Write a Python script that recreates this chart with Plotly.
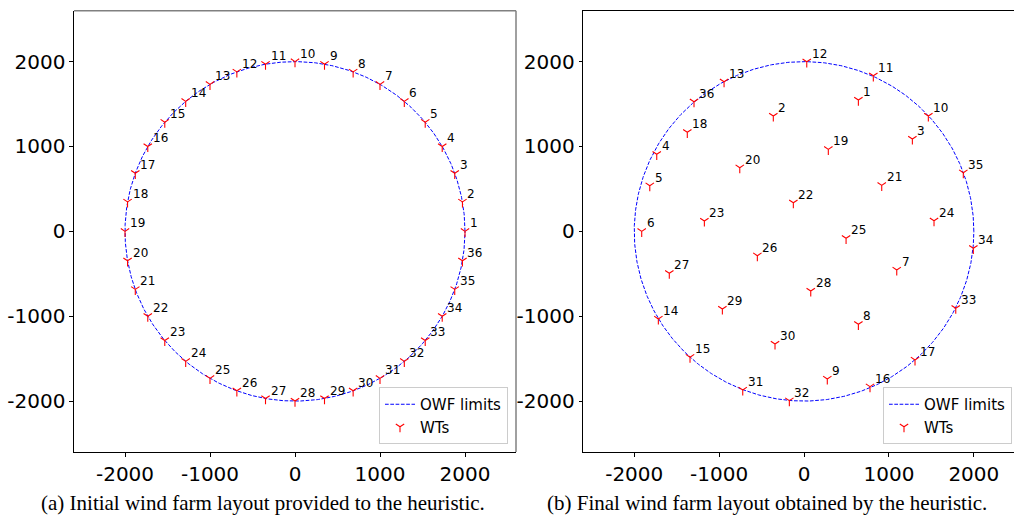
import numpy as np
import plotly.graph_objects as go

# ---------------- data ----------------
owf_radius = 2000

# (a) initial layout
init_ids = list(range(1, 37))
init_x = [2000, 1970, 1879, 1732, 1532, 1286, 1000, 684, 347, 0,
          -347, -684, -1000, -1286, -1532, -1732, -1879, -1970, -2000,
          -1970, -1879, -1732, -1532, -1286, -1000, -684, -347, 0,
          347, 684, 1000, 1286, 1532, 1732, 1879, 1970]
init_y = [0, 347, 684, 1000, 1286, 1532, 1732, 1879, 1970, 2000,
          1970, 1879, 1732, 1532, 1286, 1000, 684, 347, 0,
          -347, -684, -1000, -1286, -1532, -1732, -1879, -1970, -2000,
          -1970, -1879, -1732, -1532, -1286, -1000, -684, -347]

# (b) final layout
final_ids = list(range(1, 37))
final_x = [640, -362, 1276, -1735, -1817, -1912, 1092, 640, 274, 1464,
           816, 32, -942, -1716, -1343, 777, 1307, -1375, 286, -757,
           915, -126, -1174, 1531, 495, -550, -1587, 79, -962, -342,
           -722, -173, 1787, 1994, 1876, -1296]
final_y = [1547, 1359, 1088, 908, 538, 0, -455, -1095, -1739, 1359,
           1833, 1998, 1763, -1032, -1483, -1830, -1515, 1167, 966, 750,
           542, 337, 122, 125, -82, -287, -494, -703, -915, -1327,
           -1869, -1995, -906, -200, 691, 1527]

tick_vals = [-2000, -1000, 0, 1000, 2000]
tick_text = ["-2000", "-1000", "0", "1000", "2000"]
captions = ["(a) Initial wind farm layout provided to the heuristic.",
            "(b) Final wind farm layout obtained by the heuristic."]

# ---------------- figure ----------------
W, H = 1014, 518
FONT = "DejaVu Sans"

theta = np.linspace(0, 2 * np.pi, 721)
cx = owf_radius * np.cos(theta)
cy = owf_radius * np.sin(theta)

fig = go.Figure()

def add_panel(xs, ys, ids, xa, ya, legend):
    fig.add_trace(go.Scatter(
        x=cx, y=cy, mode="lines", name="OWF limits",
        line=dict(color="blue", width=1, dash="3.7px,1.6px"),
        xaxis=xa, yaxis=ya, legend=legend, hoverinfo="skip"))
    fig.add_trace(go.Scatter(
        x=xs, y=ys, mode="markers", name="WTs",
        marker=dict(symbol="y-down", size=7, color="red",
                    line=dict(color="red", width=1.1)),
        xaxis=xa, yaxis=ya, legend=legend))
    for i, x, y in zip(ids, xs, ys):
        fig.add_annotation(x=x, y=y, xref=xa, yref=ya, text=str(i),
                           showarrow=False, xanchor="left", yanchor="middle",
                           xshift=3, yshift=8,
                           font=dict(family=FONT, size=12, color="black"))

add_panel(init_x, init_y, init_ids, "x", "y", "legend")
add_panel(final_x, final_y, final_ids, "x2", "y2", "legend2")

y_dom = [1 - 452 / H, 1 - 10.7 / H]
axis_common = dict(showgrid=False, zeroline=False, ticks="outside",
                   ticklen=3.5, tickwidth=1, tickcolor="black",
                   tickvals=tick_vals, ticktext=tick_text,
                   tickfont=dict(family=FONT, size=20, color="black"),
                   showline=True, linecolor="black", linewidth=1.2)

fig.update_layout(
    width=W, height=H,
    margin=dict(l=0, r=0, t=0, b=0, autoexpand=False),
    paper_bgcolor="white", plot_bgcolor="white",
    showlegend=True,
    xaxis=dict(domain=[74 / W, 516 / W], range=[-2600, 2600],
               anchor="y", mirror=False, **axis_common),
    yaxis=dict(domain=y_dom, range=[-2600, 2600], anchor="x",
               mirror=False, **axis_common),
    xaxis2=dict(domain=[583.3 / W, 1.0], range=[-2600, 2473],
                anchor="y2", mirror=True, **axis_common),
    yaxis2=dict(domain=y_dom, range=[-2600, 2600], anchor="x2",
                mirror=False, **axis_common),
    legend=dict(x=508 / W, y=1 - 444 / H, xanchor="right", yanchor="bottom",
                bgcolor="white", bordercolor="#cccccc", borderwidth=1,
                font=dict(family=FONT, size=15, color="black")),
    legend2=dict(x=883 / W, y=1 - 444 / H, xanchor="left", yanchor="bottom",
                 bgcolor="white", bordercolor="#cccccc", borderwidth=1,
                 font=dict(family=FONT, size=15, color="black")),
)

# grey top/right frame of left panel
fig.add_shape(type="line", xref="x domain", yref="y domain",
              x0=0, x1=1, y0=1, y1=1, line=dict(color="#808080", width=1.5))
fig.add_shape(type="line", xref="x domain", yref="y domain",
              x0=1, x1=1, y0=0, y1=1, line=dict(color="#808080", width=1.5))

# captions
for cap, xc in zip(captions, [263 / W, 767 / W]):
    fig.add_annotation(x=xc, y=1 - 503 / H, xref="paper", yref="paper",
                       text=cap, showarrow=False, xanchor="center",
                       yanchor="middle",
                       font=dict(family="Liberation Serif", size=21,
                                 color="black"))

fig.write_html("out.html")
